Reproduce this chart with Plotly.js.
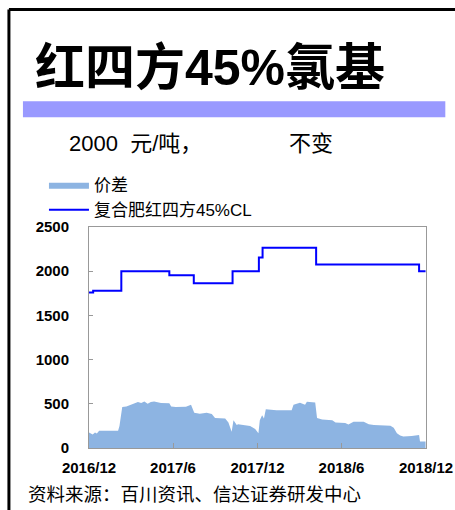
<!DOCTYPE html>
<html>
<head>
<meta charset="utf-8">
<script src="https://cdn.plot.ly/plotly-3.0.1.min.js"></script>
<style>
  body { margin: 0; background: #fff; }
  #chart { width: 455px; height: 510px; }
</style>
</head>
<body>
<div id="chart"></div>
<script>
// 价差 (spread) - area
let spreadDates = ['2016-12-01', '2016-12-09', '2016-12-14', '2016-12-18', '2016-12-23', '2017-02-02', '2017-02-05',
    '2017-02-11', '2017-02-20', '2017-02-27', '2017-03-10', '2017-03-17', '2017-03-24', '2017-03-31', '2017-04-07',
    '2017-04-14', '2017-04-21', '2017-04-29', '2017-05-06', '2017-05-24', '2017-05-28', '2017-06-07', '2017-06-29',
    '2017-07-10', '2017-07-17', '2017-07-29', '2017-08-13', '2017-08-24', '2017-08-31', '2017-09-22', '2017-09-29',
    '2017-10-06', '2017-10-10', '2017-10-17', '2017-10-20', '2017-10-31', '2017-11-15', '2017-11-26', '2017-12-03',
    '2017-12-06', '2017-12-11', '2017-12-15', '2017-12-19', '2018-01-11', '2018-02-13', '2018-02-17', '2018-03-03',
    '2018-03-14', '2018-03-18', '2018-04-05', '2018-04-09', '2018-04-20', '2018-05-12', '2018-05-19', '2018-06-09',
    '2018-06-16', '2018-06-27', '2018-07-19', '2018-07-30', '2018-08-10', '2018-09-15', '2018-09-22', '2018-09-29',
    '2018-10-06', '2018-10-13', '2018-10-31', '2018-11-16', '2018-11-18', '2018-11-30'];
let spreadVals = [176, 154, 176, 165, 195, 195, 248,
    463, 470, 482, 508, 520, 508, 527, 500,
    520, 527, 516, 508, 505, 470, 463, 466,
    489, 400, 388, 400, 385, 340, 333, 288,
    184, 315, 259, 270, 259, 248, 214, 166,
    315, 370, 333, 437, 426, 426, 489, 512,
    489, 523, 516, 340, 322, 315, 288, 284,
    266, 296, 296, 270, 259, 251, 229, 166,
    140, 129, 136, 147, 73, 73];

// 复合肥红四方45%CL - step line
let priceDates = ['2016-12-01', '2016-12-10', '2017-02-09', '2017-05-24', '2017-07-16', '2017-10-08',
    '2017-12-04', '2017-12-12', '2018-04-07', '2018-11-16', '2018-11-30'];
let priceVals = [1760, 1778, 2000, 1955, 1865, 2000, 2155, 2265, 2075, 2000, 2000];

let tickDates = ['2016-12-01', '2017-06-01', '2017-12-01', '2018-06-01', '2018-12-01'];
let tickLabels = ['2016/12', '2017/6', '2017/12', '2018/6', '2018/12'];

// plot box in pixels
const L = 89, R = 425.7, T = 227, B = 448.5;
function px(x) { return (x - L) / (R - L); }
function py(y) { return (B - y) / (B - T); }

let cjk = 'Arial, "Liberation Sans", "Noto Sans CJK SC", sans-serif';

let data = [
    {
        x: spreadDates, y: spreadVals, name: '价差',
        type: 'scatter', mode: 'lines', fill: 'tozeroy',
        fillcolor: '#8DB4E2', line: { width: 0, color: '#8DB4E2' }
    },
    {
        x: priceDates, y: priceVals, name: '复合肥红四方45%CL',
        type: 'scatter', mode: 'lines',
        line: { color: '#0000FF', width: 2, shape: 'hv' }
    }
];

let layout = {
    width: 455, height: 510,
    margin: { l: L, r: 455 - R, t: T, b: 510 - B, pad: 0 },
    paper_bgcolor: '#fff', plot_bgcolor: '#fff',
    showlegend: true,
    legend: {
        x: px(44), y: py(167), xanchor: 'left', yanchor: 'top',
        bgcolor: 'rgba(0,0,0,0)', itemwidth: 40,
        font: { family: cjk, size: 17, color: '#000' },
        tracegroupgap: 0
    },
    xaxis: {
        type: 'date', range: ['2016-12-01', '2018-12-01'],
        tickvals: tickDates, ticktext: tickLabels,
        showgrid: false, zeroline: false,
        showline: true, mirror: true, linecolor: '#999', linewidth: 1,
        ticks: 'inside', ticklen: 5, tickcolor: '#999',
        tickfont: { family: 'Arial, "Liberation Sans"', size: 15, weight: 'bold', color: '#000' },
        ticklabelstandoff: 6
    },
    yaxis: {
        range: [0, 2500], tickvals: [0, 500, 1000, 1500, 2000, 2500],
        showgrid: false, zeroline: false,
        showline: true, mirror: true, linecolor: '#999', linewidth: 1,
        ticks: 'inside', ticklen: 4, tickcolor: '#999',
        tickfont: { family: 'Arial, "Liberation Sans"', size: 15, weight: 'bold', color: '#000' },
        ticklabelstandoff: 16
    },
    shapes: [
        // outer frame (left and top edges)
        { type: 'line', xref: 'paper', yref: 'paper', x0: px(9), x1: px(9), y0: py(9), y1: py(515), line: { color: '#000', width: 3 } },
        { type: 'line', xref: 'paper', yref: 'paper', x0: px(9), x1: px(460), y0: py(9), y1: py(9), line: { color: '#000', width: 3 } },
        // purple band
        { type: 'rect', xref: 'paper', yref: 'paper', x0: px(23), x1: px(445), y0: py(101), y1: py(117), fillcolor: '#9999FF', line: { width: 0 } }
    ],
    annotations: [
        { text: '红四方45%氯基', xref: 'paper', yref: 'paper', x: px(33), y: py(68), xanchor: 'left', yanchor: 'middle',
          showarrow: false, font: { family: cjk, size: 50, weight: 'bold', color: '#000' } },
        { text: '2000  元/吨，', xref: 'paper', yref: 'paper', x: px(67), y: py(143), xanchor: 'left', yanchor: 'middle',
          showarrow: false, font: { family: cjk, size: 22, color: '#000' } },
        { text: '不变', xref: 'paper', yref: 'paper', x: px(287), y: py(143), xanchor: 'left', yanchor: 'middle',
          showarrow: false, font: { family: cjk, size: 22, color: '#000' } },
        { text: '资料来源：百川资讯、信达证券研发中心', xref: 'paper', yref: 'paper', x: px(26), y: py(495), xanchor: 'left', yanchor: 'middle',
          showarrow: false, font: { family: cjk, size: 18.5, color: '#000' } }
    ]
};

Plotly.newPlot('chart', data, layout, { staticPlot: true, displayModeBar: false });
</script>
</body>
</html>
